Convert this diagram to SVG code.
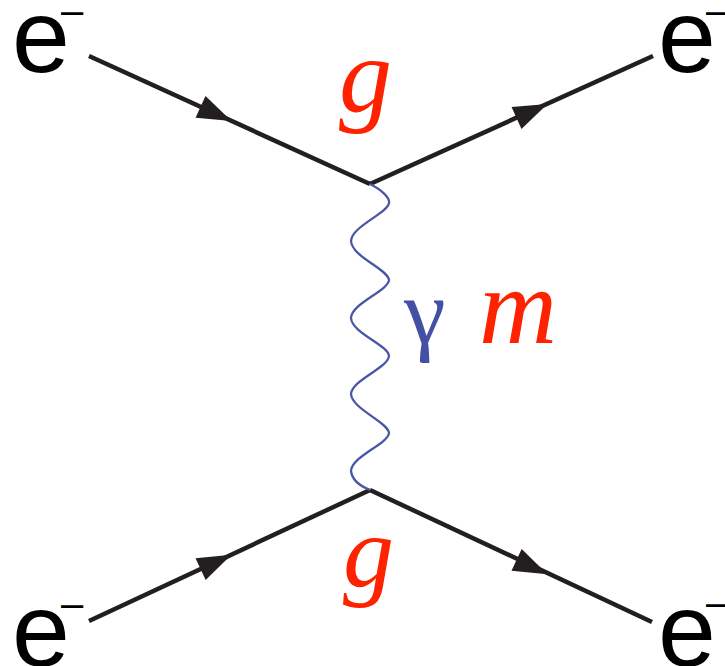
<svg xmlns="http://www.w3.org/2000/svg" width="725" height="666" viewBox="0 0 725 666">
<style>
.fermion{stroke:#231f20;stroke-width:4.5;fill:none;stroke-linecap:butt}
.arrow{fill:#231f20}
.photon{stroke:#4a57a6;stroke-width:2.3;fill:none}
.elab{font-family:"Liberation Sans","Open Sans",sans-serif;font-size:104px;fill:#000}
.minus{font-size:40px}
.coup{font-family:"Liberation Serif","Times New Roman",serif;font-style:italic;fill:#ff2200}
.gam{font-family:"Liberation Serif","DejaVu Serif",serif;fill:#4450a3}
</style>
<defs>
<polygon id="ah" points="-17,-12 17,0 -17,12"/>
</defs>
<rect width="725" height="666" fill="#fff"/>
<g id="connectors">
<line class="fermion" x1="89" y1="56" x2="370" y2="184"/>
<line class="fermion" x1="370" y1="184" x2="653" y2="56"/>
<line class="fermion" x1="89" y1="621" x2="370" y2="490"/>
<line class="fermion" x1="370" y1="490" x2="652" y2="622"/>
<use href="#ah" class="arrow" transform="translate(216,114) rotate(24.5)"/>
<use href="#ah" class="arrow" transform="translate(532,111) rotate(-24.3)"/>
<use href="#ah" class="arrow" transform="translate(216,562) rotate(-25)"/>
<use href="#ah" class="arrow" transform="translate(532,567) rotate(25)"/>
<path id="photon" class="photon" d="M370,184 C382,190 390,198 389,203 C388,213 352,226 351,241 C352,257 388,269 389,280 C388,291 352,303 351,318 C352,333 388,345 389,356 C388,368 352,380 351,394 C352,409 388,422 389,433 C388,444 352,456 351,471 C352,480 360,486 370,490"/>
</g>
<g id="e-in-top">
<text class="elab" x="12" y="72">e<tspan class="minus" x="61" y="24">–</tspan></text>
</g>
<g id="e-out-top">
<text class="elab" x="658" y="72">e<tspan class="minus" x="706" y="24">–</tspan></text>
</g>
<g id="e-in-bottom">
<text class="elab" x="12" y="666">e<tspan class="minus" x="61" y="617">–</tspan></text>
</g>
<g id="e-out-bottom">
<text class="elab" x="658" y="666">e<tspan class="minus" x="706" y="616">–</tspan></text>
</g>
<g id="g-top"><text class="coup" x="339" y="111" font-size="106">g</text></g>
<g id="g-bottom"><text class="coup" x="343" y="586" font-size="102">g</text></g>
<g id="gamma"><text class="gam" x="404" y="343" font-size="94">γ</text></g>
<g id="m"><text class="coup" x="479" y="343" font-size="108">m</text></g>
</svg>
